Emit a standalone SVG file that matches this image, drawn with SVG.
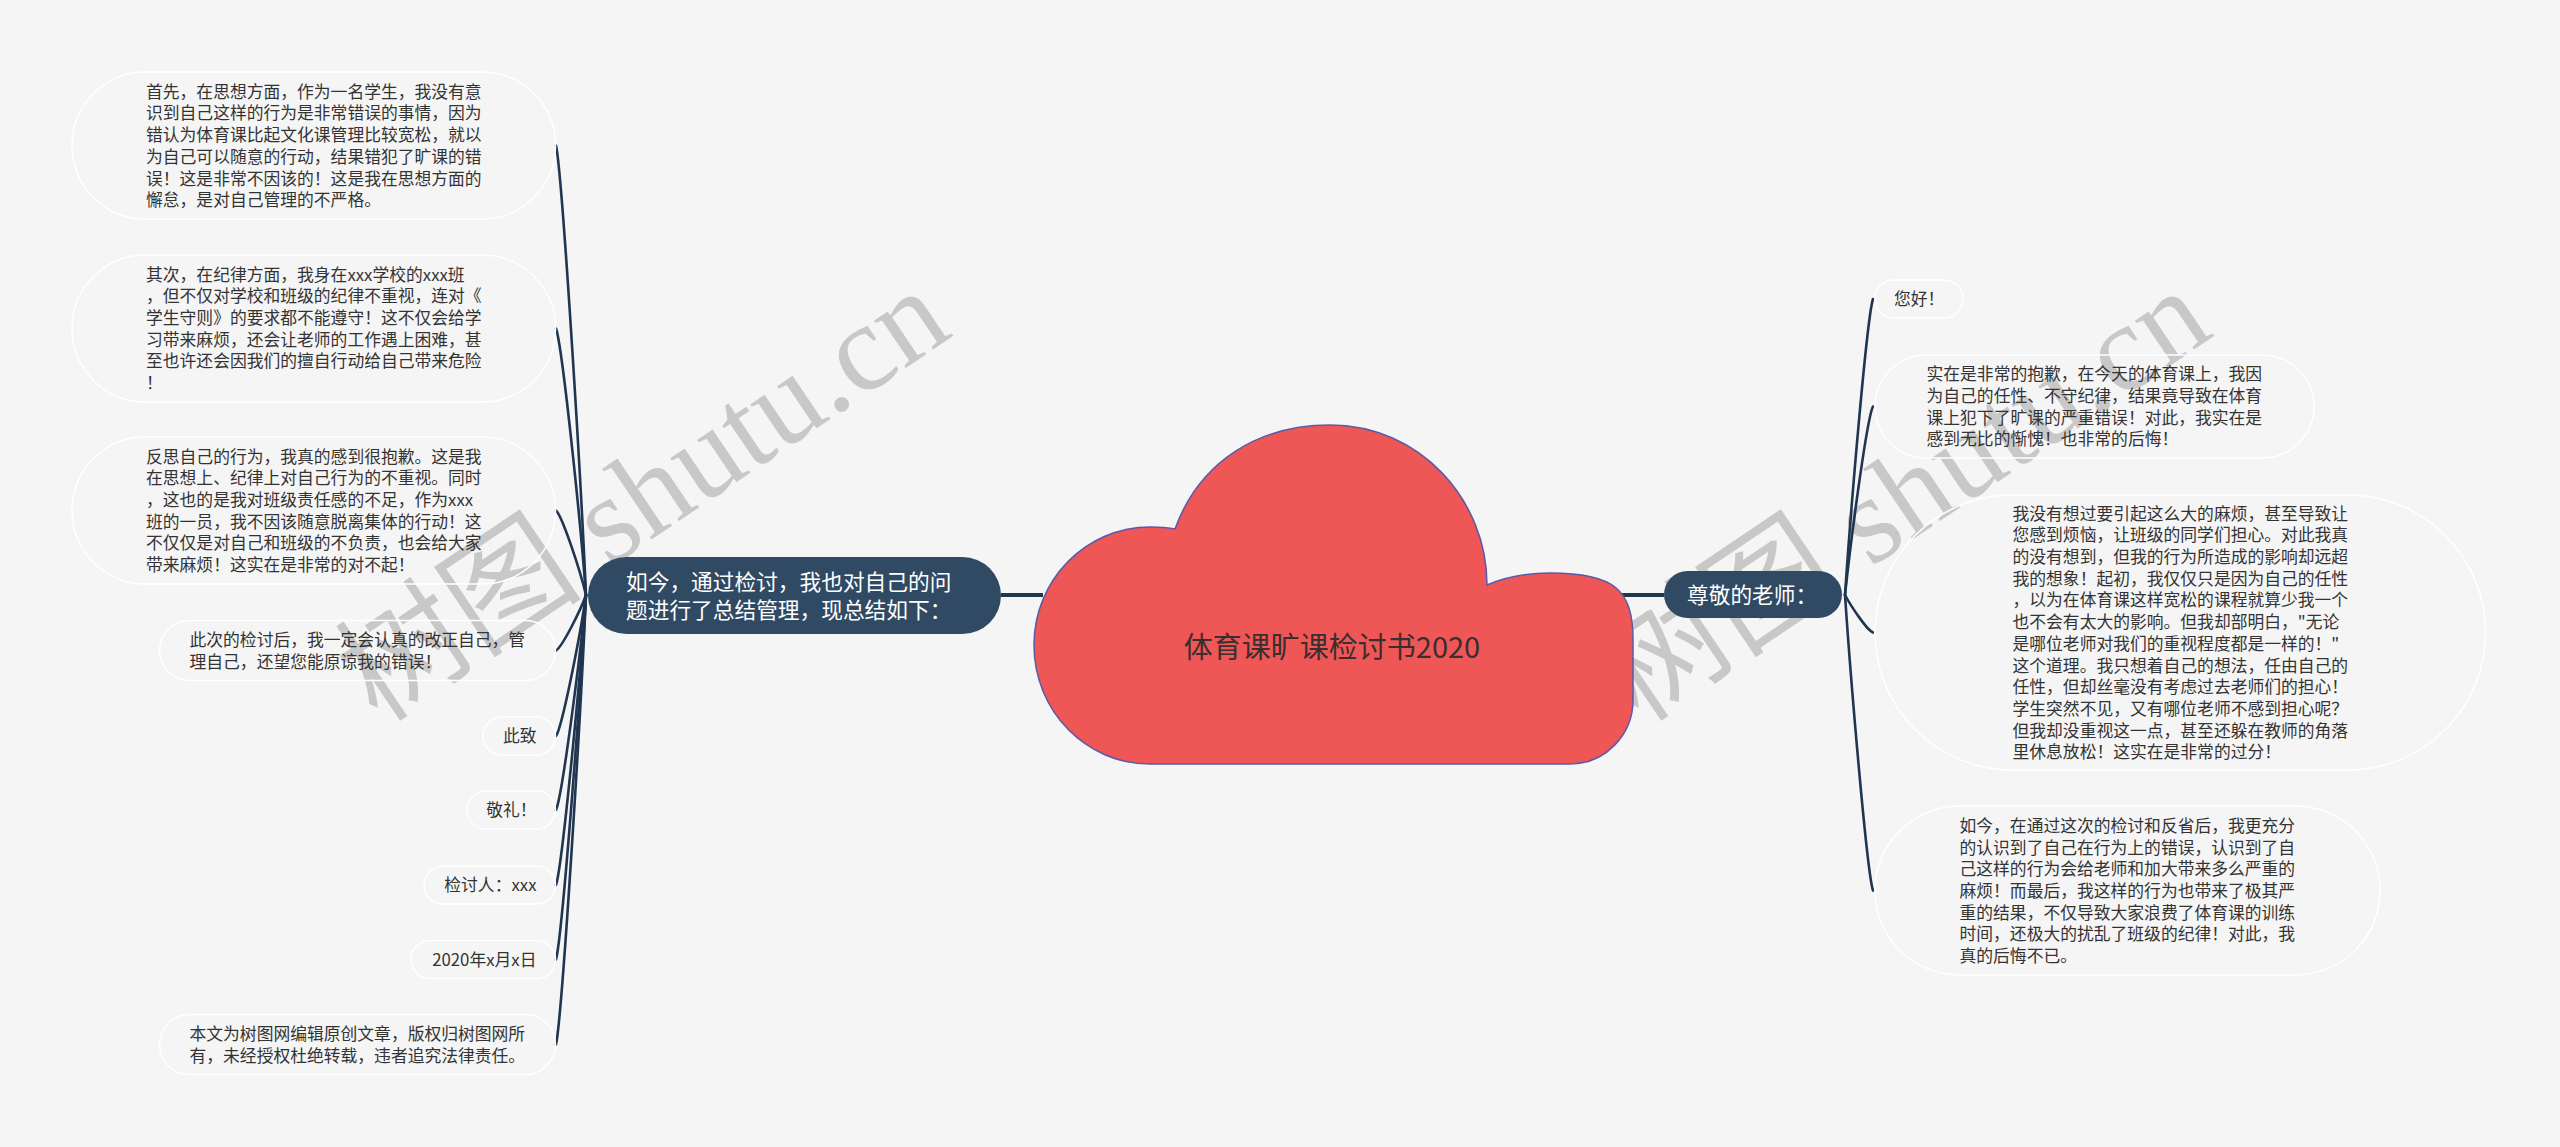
<svg xmlns="http://www.w3.org/2000/svg" width="2560" height="1147" viewBox="0 0 2560 1147">
<style>
.pill{fill:none;stroke:#ffffff;stroke-width:1.5}
.t{font-family:"Noto Sans CJK SC","Liberation Sans",sans-serif;font-size:16.8px;fill:#333333}
.te{font-family:"Noto Sans CJK SC","Liberation Sans",sans-serif;font-size:16.8px;fill:#333333;text-anchor:end}
.mainbox{fill:#304a64}
.mt{font-family:"Noto Sans CJK SC","Liberation Sans",sans-serif;font-size:21.7px;fill:#ffffff}
.conn path{fill:none;stroke:#1f3550;stroke-width:2.6;stroke-linecap:round}
.conn line{stroke:#1f3550;stroke-width:4}
.wm{font-family:"Liberation Serif","Noto Sans CJK SC",serif;font-size:124px;fill:#bdbdbd;opacity:0.8}
</style>
<rect width="2560" height="1147" fill="#f5f5f5"/>
<g id="watermark">
<text class="wm" transform="translate(378,724) rotate(-34)">树图 shutu.cn</text>
<text class="wm" transform="translate(1639,724) rotate(-34)">树图 shutu.cn</text>
</g>
<g id="connectors" class="conn">
<line x1="1001" y1="595" x2="1043" y2="595"/>
<line x1="1620" y1="595" x2="1664" y2="595"/>
<path d="M586 595 C580 460.1 562 172.5 556 145.5"/>
<path d="M586 595 C580 515.05 562 344.5 556 328.5"/>
<path d="M586 595 C580 569.65 562 515.6 556 510.5"/>
<path d="M586 595 C580 611.65 562 647.2 556 650.5"/>
<path d="M586 595 C580 637.3 562 727.5 556 736"/>
<path d="M586 595 C580 659.5 562 797.1 556 810"/>
<path d="M586 595 C580 682 562 867.6 556 885"/>
<path d="M586 595 C580 704.35 562 937.6 556 959.5"/>
<path d="M586 595 C580 729.85 562 1017.5 556 1044.5"/>
<path d="M1845 595 C1851 506.2 1867 316.8 1873 299"/>
<path d="M1845 595 C1851 538.45 1867 417.8 1873 406.5"/>
<path d="M1845 595 C1851 606.25 1867 630.25 1873 632.5"/>
<path d="M1845 595 C1851 683.65 1867 872.8 1873 890.5"/>
</g>
<g id="root">
<path d="M1150 764 C1086 764 1034 711 1034 645 C1034 580 1086 527 1150 527 C1160 527 1168 527.5 1175 529 C1200 460 1260 425 1330 425 C1420 425 1487 500 1487 585 C1505 577 1525 573 1550 573 C1615 573 1633 590 1633 640 L1633 700 C1633 735 1605 764 1570 764 Z" fill="#ef5656" stroke="#5a5aa8" stroke-width="1.5"/>
<text x="1332" y="658" text-anchor="middle" style="font-family:'Noto Sans CJK SC','Liberation Sans',sans-serif;font-size:29px;fill:#3a2e2e">体育课旷课检讨书2020</text>
</g>
<g id="left-main">
<rect class="mainbox" x="588" y="557" width="413" height="77" rx="38.5"/>
<text class="mt"><tspan x="626" y="590.2">如今，通过检讨，我也对自己的问</tspan><tspan x="626" y="618.2">题进行了总结管理，现总结如下：</tspan></text>
</g>
<g id="right-main">
<rect class="mainbox" x="1664" y="571" width="178" height="47" rx="23.5"/>
<text class="mt" x="1687" y="602.7">尊敬的老师：</text>
</g>
<g id="l1">
<rect class="pill" x="72" y="72" width="483.5" height="147" rx="73.5"/>
<text class="t"><tspan x="146" y="97.7">首先，在思想方面，作为一名学生，我没有意</tspan><tspan x="146" y="119.4">识到自己这样的行为是非常错误的事情，因为</tspan><tspan x="146" y="141.1">错认为体育课比起文化课管理比较宽松，就以</tspan><tspan x="146" y="162.8">为自己可以随意的行动，结果错犯了旷课的错</tspan><tspan x="146" y="184.5">误！这是非常不因该的！这是我在思想方面的</tspan><tspan x="146" y="206.2">懈怠，是对自己管理的不严格。</tspan></text>
</g>
<g id="l2">
<rect class="pill" x="72" y="255" width="483.5" height="147" rx="73.5"/>
<text class="t"><tspan x="146" y="280.6">其次，在纪律方面，我身在xxx学校的xxx班</tspan><tspan x="146" y="302.3">，但不仅对学校和班级的纪律不重视，连对《</tspan><tspan x="146" y="324">学生守则》的要求都不能遵守！这不仅会给学</tspan><tspan x="146" y="345.7">习带来麻烦，还会让老师的工作遇上困难，甚</tspan><tspan x="146" y="367.4">至也许还会因我们的擅自行动给自己带来危险</tspan><tspan x="146" y="389.1">！</tspan></text>
</g>
<g id="l3">
<rect class="pill" x="72" y="437" width="483.5" height="147" rx="73.5"/>
<text class="t"><tspan x="146" y="462.6">反思自己的行为，我真的感到很抱歉。这是我</tspan><tspan x="146" y="484.3">在思想上、纪律上对自己行为的不重视。同时</tspan><tspan x="146" y="506">，这也的是我对班级责任感的不足，作为xxx</tspan><tspan x="146" y="527.7">班的一员，我不因该随意脱离集体的行动！这</tspan><tspan x="146" y="549.4">不仅仅是对自己和班级的不负责，也会给大家</tspan><tspan x="146" y="571.1">带来麻烦！这实在是非常的对不起！</tspan></text>
</g>
<g id="l4">
<rect class="pill" x="159.5" y="620.5" width="396" height="60" rx="30"/>
<text class="t"><tspan x="189.5" y="646">此次的检讨后，我一定会认真的改正自己，管</tspan><tspan x="189.5" y="667.7">理自己，还望您能原谅我的错误！</tspan></text>
</g>
<g id="l5">
<rect class="pill" x="483" y="717" width="72.5" height="38" rx="19"/>
<text class="te" x="536.5" y="742.4">此致</text>
</g>
<g id="l6">
<rect class="pill" x="467" y="791" width="88.5" height="38" rx="19"/>
<text class="te" x="536.5" y="816.4">敬礼！</text>
</g>
<g id="l7">
<rect class="pill" x="424" y="866" width="131.5" height="38" rx="19"/>
<text class="te" x="536.5" y="891.4">检讨人：xxx</text>
</g>
<g id="l8">
<rect class="pill" x="411" y="940.5" width="144.5" height="38" rx="19"/>
<text class="te" x="536.5" y="965.9">2020年x月x日</text>
</g>
<g id="l9">
<rect class="pill" x="159.5" y="1014.5" width="396" height="60" rx="30"/>
<text class="t"><tspan x="189.5" y="1040">本文为树图网编辑原创文章，版权归树图网所</tspan><tspan x="189.5" y="1061.7">有，未经授权杜绝转载，违者追究法律责任。</tspan></text>
</g>
<g id="r1">
<rect class="pill" x="1875" y="280" width="88" height="38" rx="19"/>
<text class="t" x="1894" y="305.4">您好！</text>
</g>
<g id="r2">
<rect class="pill" x="1875" y="355" width="439" height="103" rx="51.5"/>
<text class="t"><tspan x="1926.5" y="380.3">实在是非常的抱歉，在今天的体育课上，我因</tspan><tspan x="1926.5" y="402">为自己的任性、不守纪律，结果竟导致在体育</tspan><tspan x="1926.5" y="423.7">课上犯下了旷课的严重错误！对此，我实在是</tspan><tspan x="1926.5" y="445.4">感到无比的惭愧！也非常的后悔！</tspan></text>
</g>
<g id="r3">
<rect class="pill" x="1875" y="495" width="610.5" height="275" rx="137.5"/>
<text class="t"><tspan x="2012.5" y="519.6">我没有想过要引起这么大的麻烦，甚至导致让</tspan><tspan x="2012.5" y="541.3">您感到烦恼，让班级的同学们担心。对此我真</tspan><tspan x="2012.5" y="563">的没有想到，但我的行为所造成的影响却远超</tspan><tspan x="2012.5" y="584.7">我的想象！起初，我仅仅只是因为自己的任性</tspan><tspan x="2012.5" y="606.4">，以为在体育课这样宽松的课程就算少我一个</tspan><tspan x="2012.5" y="628.1">也不会有太大的影响。但我却部明白，"无论</tspan><tspan x="2012.5" y="649.8">是哪位老师对我们的重视程度都是一样的！"</tspan><tspan x="2012.5" y="671.5">这个道理。我只想着自己的想法，任由自己的</tspan><tspan x="2012.5" y="693.2">任性，但却丝毫没有考虑过去老师们的担心！</tspan><tspan x="2012.5" y="714.9">学生突然不见，又有哪位老师不感到担心呢？</tspan><tspan x="2012.5" y="736.6">但我却没重视这一点，甚至还躲在教师的角落</tspan><tspan x="2012.5" y="758.3">里休息放松！这实在是非常的过分！</tspan></text>
</g>
<g id="r4">
<rect class="pill" x="1875" y="806" width="505" height="169" rx="84.5"/>
<text class="t"><tspan x="1959.5" y="831.8">如今，在通过这次的检讨和反省后，我更充分</tspan><tspan x="1959.5" y="853.5">的认识到了自己在行为上的错误，认识到了自</tspan><tspan x="1959.5" y="875.2">己这样的行为会给老师和加大带来多么严重的</tspan><tspan x="1959.5" y="896.9">麻烦！而最后，我这样的行为也带来了极其严</tspan><tspan x="1959.5" y="918.6">重的结果，不仅导致大家浪费了体育课的训练</tspan><tspan x="1959.5" y="940.3">时间，还极大的扰乱了班级的纪律！对此，我</tspan><tspan x="1959.5" y="962">真的后悔不已。</tspan></text>
</g>
</svg>
